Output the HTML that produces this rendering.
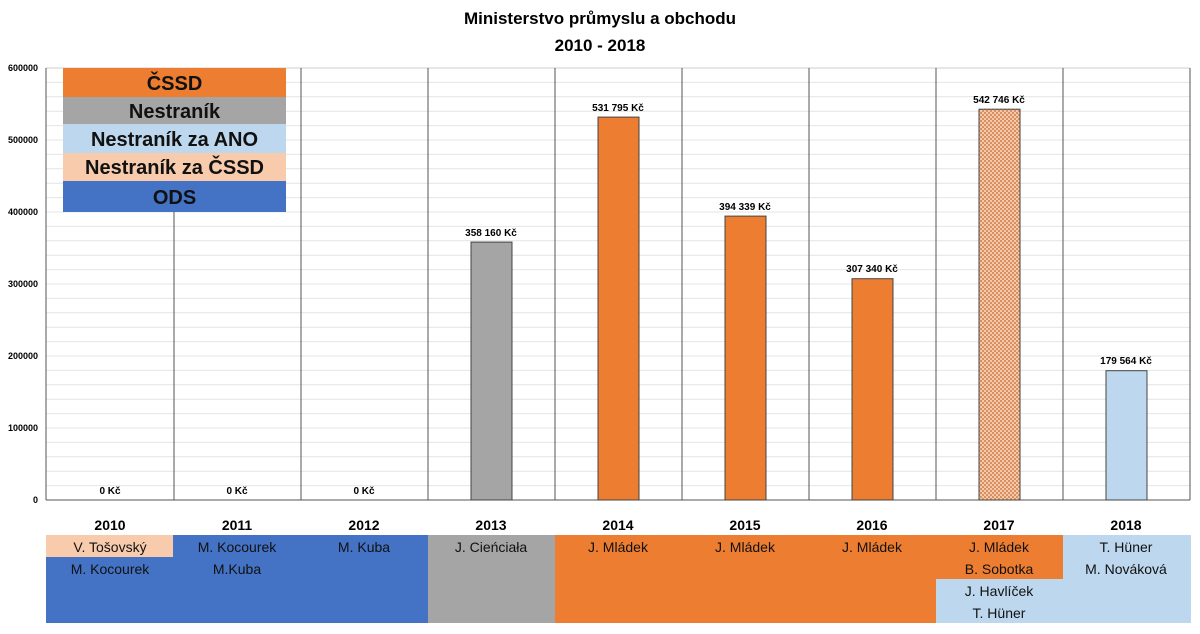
<!DOCTYPE html>
<html><head><meta charset="utf-8"><style>
body{margin:0;background:#fff}
svg text{font-family:"Liberation Sans",sans-serif}
</style></head><body>
<svg width="1200" height="629" viewBox="0 0 1200 629" xmlns="http://www.w3.org/2000/svg">
<defs>
<pattern id="chk" width="4" height="4" patternUnits="userSpaceOnUse">
<rect width="4" height="4" fill="#f3c9ad"/><rect width="2" height="2" fill="#d98f5e"/><rect x="2" y="2" width="2" height="2" fill="#d98f5e"/>
</pattern>
</defs>
<rect width="1200" height="629" fill="#fff"/>
<text x="600" y="24" font-size="17" font-weight="bold" text-anchor="middle">Ministerstvo průmyslu a obchodu</text>
<text x="600" y="51" font-size="17" font-weight="bold" text-anchor="middle">2010 - 2018</text>
<g stroke="#e4e4e4" stroke-width="1">
<line x1="46" x2="1190" y1="82.4" y2="82.4"/><line x1="46" x2="1190" y1="96.8" y2="96.8"/><line x1="46" x2="1190" y1="111.2" y2="111.2"/><line x1="46" x2="1190" y1="125.6" y2="125.6"/>
<line x1="46" x2="1190" y1="140" y2="140"/><line x1="46" x2="1190" y1="154.4" y2="154.4"/><line x1="46" x2="1190" y1="168.8" y2="168.8"/><line x1="46" x2="1190" y1="183.2" y2="183.2"/><line x1="46" x2="1190" y1="197.6" y2="197.6"/>
<line x1="46" x2="1190" y1="212" y2="212"/><line x1="46" x2="1190" y1="226.4" y2="226.4"/><line x1="46" x2="1190" y1="240.8" y2="240.8"/><line x1="46" x2="1190" y1="255.2" y2="255.2"/><line x1="46" x2="1190" y1="269.6" y2="269.6"/>
<line x1="46" x2="1190" y1="284" y2="284"/><line x1="46" x2="1190" y1="298.4" y2="298.4"/><line x1="46" x2="1190" y1="312.8" y2="312.8"/><line x1="46" x2="1190" y1="327.2" y2="327.2"/><line x1="46" x2="1190" y1="341.6" y2="341.6"/>
<line x1="46" x2="1190" y1="356" y2="356"/><line x1="46" x2="1190" y1="370.4" y2="370.4"/><line x1="46" x2="1190" y1="384.8" y2="384.8"/><line x1="46" x2="1190" y1="399.2" y2="399.2"/><line x1="46" x2="1190" y1="413.6" y2="413.6"/>
<line x1="46" x2="1190" y1="428" y2="428"/><line x1="46" x2="1190" y1="442.4" y2="442.4"/><line x1="46" x2="1190" y1="456.8" y2="456.8"/><line x1="46" x2="1190" y1="471.2" y2="471.2"/><line x1="46" x2="1190" y1="485.6" y2="485.6"/>
</g>
<g stroke="#555" stroke-width="1">
<line x1="46" x2="1190" y1="68" y2="68" stroke="#ccc"/>
<line x1="46" x2="1190" y1="500" y2="500"/>
<line x1="46" x2="46" y1="68" y2="500"/>
<line x1="174" x2="174" y1="68" y2="500"/>
<line x1="301" x2="301" y1="68" y2="500"/>
<line x1="428" x2="428" y1="68" y2="500"/>
<line x1="555" x2="555" y1="68" y2="500"/>
<line x1="682" x2="682" y1="68" y2="500"/>
<line x1="809" x2="809" y1="68" y2="500"/>
<line x1="936" x2="936" y1="68" y2="500"/>
<line x1="1063" x2="1063" y1="68" y2="500"/>
<line x1="1190" x2="1190" y1="68" y2="500"/>
</g>
<g font-size="9" font-weight="bold" text-anchor="end">
<text x="38" y="71">600000</text><text x="38" y="143">500000</text><text x="38" y="215">400000</text>
<text x="38" y="287">300000</text><text x="38" y="359">200000</text><text x="38" y="431">100000</text><text x="38" y="503">0</text>
</g>
<!-- bars -->
<g stroke="#444" stroke-width="1">
<rect x="471" y="242.1" width="41" height="257.9" fill="#a5a5a5"/>
<rect x="598" y="117.1" width="41" height="382.9" fill="#ed7d31"/>
<rect x="725" y="216.1" width="41" height="283.9" fill="#ed7d31"/>
<rect x="852" y="278.7" width="41" height="221.3" fill="#ed7d31"/>
<rect x="979" y="109.2" width="41" height="390.8" fill="url(#chk)"/>
<rect x="1106" y="370.7" width="41" height="129.3" fill="#bdd7ee"/>
</g>
<g font-size="10" font-weight="bold" text-anchor="middle">
<text x="110" y="494">0 Kč</text><text x="237" y="494">0 Kč</text><text x="364" y="494">0 Kč</text>
<text x="491" y="236">358 160 Kč</text><text x="618" y="111">531 795 Kč</text><text x="745" y="210">394 339 Kč</text>
<text x="872" y="272">307 340 Kč</text><text x="999" y="103">542 746 Kč</text><text x="1126" y="364">179 564 Kč</text>
</g>
<!-- legend -->
<rect x="63" y="68" width="223" height="29" fill="#ed7d31"/>
<rect x="63" y="97" width="223" height="27" fill="#a5a5a5"/>
<rect x="63" y="124" width="223" height="29" fill="#bdd7ee"/>
<rect x="63" y="153" width="223" height="28" fill="#f8cbad"/>
<rect x="63" y="181" width="223" height="31" fill="#4472c4"/>
<g font-size="20" font-weight="bold" text-anchor="middle" fill="#111">
<text x="174.5" y="90">ČSSD</text><text x="174.5" y="118">Nestraník</text><text x="174.5" y="146">Nestraník za ANO</text>
<text x="174.5" y="174">Nestraník za ČSSD</text><text x="174.5" y="204">ODS</text>
</g>
<!-- bottom band -->
<rect x="46" y="535" width="382" height="88" fill="#4472c4"/>
<rect x="46" y="535" width="127" height="22" fill="#f8cbad"/>
<rect x="428" y="535" width="127" height="88" fill="#a5a5a5"/>
<rect x="555" y="535" width="381" height="88" fill="#ed7d31"/>
<rect x="936" y="579" width="255" height="44" fill="#bdd7ee"/>
<rect x="936" y="535" width="127" height="44" fill="#ed7d31"/>
<rect x="1063" y="535" width="128" height="44" fill="#bdd7ee"/>
<g font-size="14" font-weight="bold" text-anchor="middle">
<text x="110" y="530">2010</text><text x="237" y="530">2011</text><text x="364" y="530">2012</text>
<text x="491" y="530">2013</text><text x="618" y="530">2014</text><text x="745" y="530">2015</text>
<text x="872" y="530">2016</text><text x="999" y="530">2017</text><text x="1126" y="530">2018</text>
</g>
<g font-size="14" text-anchor="middle" fill="#111">
<text x="110" y="552">V. Tošovský</text><text x="110" y="574">M. Kocourek</text>
<text x="237" y="552">M. Kocourek</text><text x="237" y="574">M.Kuba</text>
<text x="364" y="552">M. Kuba</text>
<text x="491" y="552">J. Cieńciała</text>
<text x="618" y="552">J. Mládek</text><text x="745" y="552">J. Mládek</text><text x="872" y="552">J. Mládek</text>
<text x="999" y="552">J. Mládek</text><text x="999" y="574">B. Sobotka</text><text x="999" y="596">J. Havlíček</text><text x="999" y="618">T. Hüner</text>
<text x="1126" y="552">T. Hüner</text><text x="1126" y="574">M. Nováková</text>
</g>
</svg>
</body></html>
